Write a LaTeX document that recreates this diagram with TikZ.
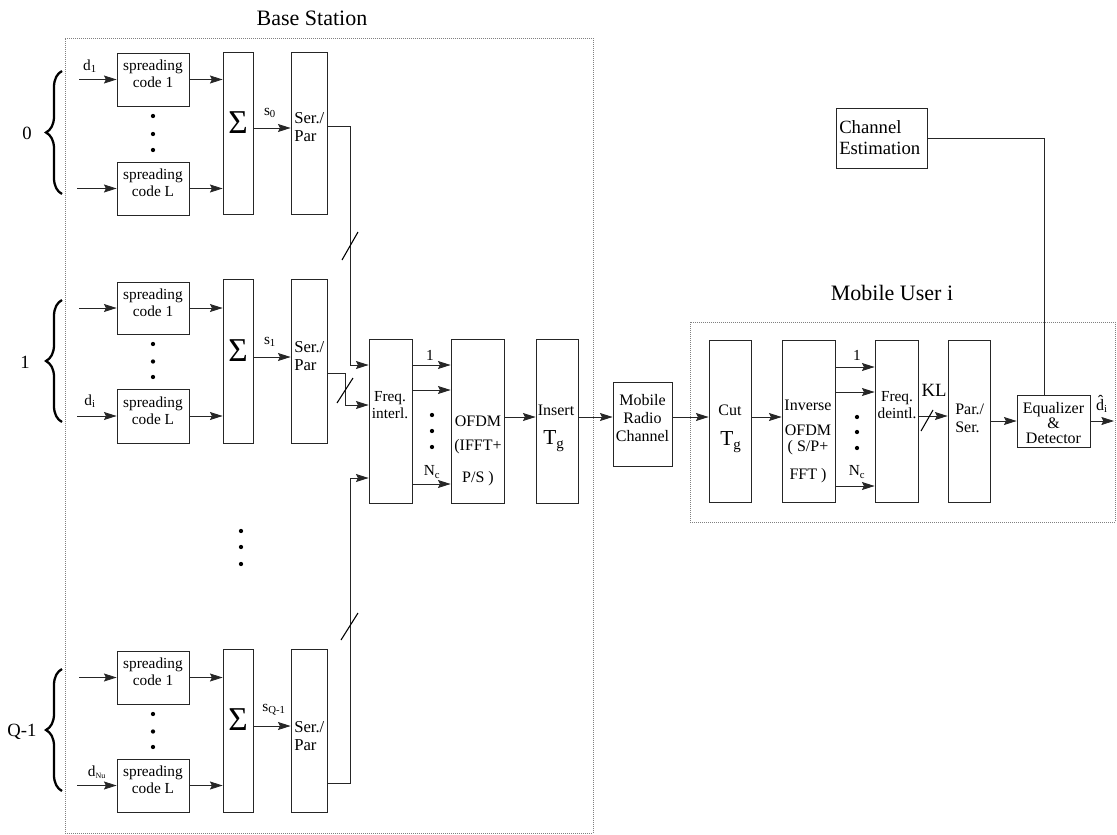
\documentclass[tikz,border=0pt]{standalone}
\usepackage{fontspec}
\setmainfont{Liberation Serif}
\usetikzlibrary{arrows.meta,fit,decorations.pathreplacing}
\begin{document}
\begin{tikzpicture}[x=0.75pt,y=-0.75pt,
  box/.style={draw=black!85, line width=0.6pt, inner sep=0pt},
  arr/.style={-{Stealth[length=9.5pt,width=6pt,inset=1.5pt]}, line width=0.6pt, draw=black!85},
  wire/.style={line width=0.6pt, draw=black!85},
  slash/.style={line width=0.8pt, draw=black},
  dotbox/.style={draw=black!50, line width=0.6pt, dash pattern=on 0.5pt off 1pt},
  t11/.style={font=\fontsize{11.5}{12.8}\selectfont, inner sep=0pt, align=center},
  tsp/.style={font=\fontsize{12.5}{13.5}\selectfont, inner sep=0pt, align=left},
  t12/.style={font=\fontsize{12}{13.5}\selectfont, inner sep=0pt, align=center},
  t14/.style={font=\fontsize{14}{16}\selectfont, inner sep=0pt, align=center},
  t15/.style={font=\fontsize{16.5}{18}\selectfont, inner sep=0pt, align=center},
  tg/.style={font=\fontsize{16}{18}\selectfont, inner sep=0pt},
  sig/.style={font=\fontsize{25}{25}\selectfont, inner sep=0pt},
  brc/.style={decorate, decoration={brace, amplitude=12pt}, line width=1.7pt},
  dot/.style={fill=black}
]
\useasboundingbox (0,0) rectangle (1117,835);

% outer dotted frames and titles
\node[dotbox, fit={(65,38) (593,833)}, inner sep=0pt] (bs) {};
\node[t15] (bstitle) at (312,18) {Base Station};
\node[dotbox, fit={(690,322) (1115,522)}, inner sep=0pt] (mu) {};
\node[t15] (mutitle) at (892,293) {Mobile User i};

% three transmitter groups
\foreach \g/\a/\b/\c/\d/\e/\f/\sy/\py in {0/53/106/162/215/52/214/128/127, 1/282/334/389/443/279/443/357/356, q/651/704/759/812/649/812/726/736} {
  \node[box, t11, fit={(117,\a) (189,\b)}] (sa\g) {spreading\\code 1};
  \node[box, t11, fit={(117,\c) (189,\d)}] (sl\g) {spreading\\code L};
  \node[box, sig, fit={(223,\e) (253,\f)}] (sg\g) {Σ};
  \node[box, fit={(291,\e) (327,\f)}] (sp\g) {};
  \node[tsp, anchor=west] (spt\g) at (294,\py) {Ser./\\Par};
  \coordinate (ia\g) at (79,{(\a+\b)/2});
  \coordinate (il\g) at (77,{(\c+\d)/2});
  \coordinate (sy\g) at (0,\sy);
  \draw[arr] (ia\g) -- (sa\g.west);
  \draw[arr] (il\g) -- (sl\g.west);
  \draw[arr] (sa\g.east) -- (sa\g.east -| sg\g.west);
  \draw[arr] (sl\g.east) -- (sl\g.east -| sg\g.west);
  \draw[arr] (sg\g.east |- sy\g) -- (sp\g.west |- sy\g);
  \fill[dot] (153,{\b+10}) circle (1.6pt);
  \fill[dot] (153,{(\b+\c)/2}) circle (1.6pt);
  \fill[dot] (153,{\c-12}) circle (1.6pt);
  \draw[brc] (62,{\d-21}) -- (62,{\a+18});
}
\node[t14] (g0) at (27,133) {0};
\node[t14] (g1) at (25,362) {1};
\node[t14] (gq) at (22,732) {Q-1};
\node[t11] (d1) at (90,66) {d\textsubscript{1}};
\node[t11] (di) at (90,401) {d\textsubscript{i}};
\node[t11] (dnu) at (97,772) {d\textsubscript{\fontsize{6}{6}\selectfont Nu}};
\node[t11] (s0) at (270,113) {s\textsubscript{0}};
\node[t11] (s1) at (270,342) {s\textsubscript{1}};
\node[t11] (sq) at (274,710) {s\textsubscript{Q-1}};

% vertical dots between groups
\fill[dot] (241,531) circle (1.6pt);
\fill[dot] (241,547) circle (1.6pt);
\fill[dot] (241,564) circle (1.6pt);

% frequency interleaver, OFDM, insert
\node[box, fit={(369,339) (412,503)}] (fi) {};
\node[t11] (fit) at (390,405) {Freq.\\interl.};
\node[box, fit={(451,339) (504,503)}] (ofdm) {};
\node[t12] (ofdmt) at (478,421) {OFDM};
\node[t12, font=\fontsize{12}{24}\selectfont] (ofdmt2) at (478,463) {(IFFT+\\P/S )};
\node[box, fit={(536,339) (578,503)}] (ins) {};
\node[t12] (inst) at (556,410) {Insert};
\node[tg] (instg) at (554,441) {T\textsubscript{g}};
\node[box, t12, fit={(613,382) (672,466)}] (mrc) {Mobile\\Radio\\Channel};

% connections into the interleaver
\coordinate (k0a) at (350,126);
\coordinate (k0b) at (350,365);
\coordinate (k1a) at (345,373);
\coordinate (k1b) at (345,405);
\coordinate (kqa) at (350,783);
\coordinate (kqb) at (350,478);
\draw[wire] (sp0.east |- k0a) -- (k0a) -- (k0b);
\draw[arr] (k0b) -- (fi.west |- k0b);
\draw[wire] (sp1.east |- k1a) -- (k1a) -- (k1b);
\draw[arr] (k1b) -- (fi.west |- k1b);
\draw[wire] (spq.east |- kqa) -- (kqa) -- (kqb);
\draw[arr] (kqb) -- (fi.west |- kqb);
\draw[slash] (342,260) -- (358,232);
\draw[slash] (337,403) -- (353,378);
\draw[slash] (341,640) -- (358,613);

% interleaver outputs
\foreach \yy in {365,390,484} {
  \coordinate (fo\yy) at (0,\yy);
  \draw[arr] (fi.east |- fo\yy) -- (ofdm.west |- fo\yy);
}
\node[t11] (fo1) at (430,355) {1};
\node[t11] (fonc) at (432,472) {N\textsubscript{c}};
\fill[dot] (432,415) circle (1.6pt);
\fill[dot] (432,431) circle (1.6pt);
\fill[dot] (432,447) circle (1.6pt);

% receiver
\node[box, fit={(709,340) (751,502)}] (cut) {};
\node[t12] (cutt) at (730,410) {Cut};
\node[tg] (cuttg) at (731,442) {T\textsubscript{g}};
\node[box, fit={(782,340) (835,502)}] (iofdm) {};
\node[t12, font=\fontsize{12}{19}\selectfont] (iofdmt) at (808,418) {Inverse\\OFDM};
\node[t12, font=\fontsize{12}{21}\selectfont] (iofdmt2) at (808,462) {( S/P+\\FFT )};
\node[box, fit={(875,340) (918,502)}] (fd) {};
\node[t11] (fdt) at (897,405) {Freq.\\deintl.};
\node[box, fit={(948,340) (990,502)}] (ps) {};
\node[tsp, font=\fontsize{12}{13.5}\selectfont, anchor=west] (pst) at (955,418) {Par./\\Ser.};
\node[box, fit={(1017,395) (1090,447)}] (eq) {};
\node[t12, font=\fontsize{12}{11.3}\selectfont] (eqt) at (1053.5,423) {Equalizer\\\&\\Detector};
\node[box, fit={(836,108) (927,168)}] (ce) {};
\node[t12, font=\fontsize{14}{15.75}\selectfont, anchor=west, align=left] (cet) at (839,138) {Channel\\Estimation};

\coordinate (m) at (0,417);
\draw[arr] (ofdm.east |- m) -- (ins.west |- m);
\draw[arr] (ins.east |- m) -- (mrc.west |- m);
\draw[arr] (mrc.east |- m) -- (cut.west |- m);
\draw[arr] (cut.east |- m) -- (iofdm.west |- m);

\foreach \yy in {367,392,486} {
  \coordinate (ro\yy) at (0,\yy);
  \draw[arr] (iofdm.east |- ro\yy) -- (fd.west |- ro\yy);
}
\node[t11] (ro1) at (857,355) {1};
\node[t11] (ronc) at (857,472) {N\textsubscript{c}};
\fill[dot] (857,417) circle (1.6pt);
\fill[dot] (857,432) circle (1.6pt);
\fill[dot] (857,448) circle (1.6pt);

\coordinate (kl) at (0,416);
\draw[arr] (fd.east |- kl) -- (ps.west |- kl);
\draw[slash] (921,431) -- (933,410);
\node[t14] (klt) at (934,390) {KL};

\coordinate (eqy) at (0,421);
\draw[arr] (ps.east |- eqy) -- (eq.west |- eqy);
\coordinate (dout) at (1114,421);
\draw[arr] (eq.east |- eqy) -- (dout);
\node[t12] (dhat) at (1102,404) {\^{d}\textsubscript{i}};

\coordinate (cex) at (1044,0);
\draw[wire] (ce.east) -| (cex |- eq.north);
\end{tikzpicture}
\end{document}
